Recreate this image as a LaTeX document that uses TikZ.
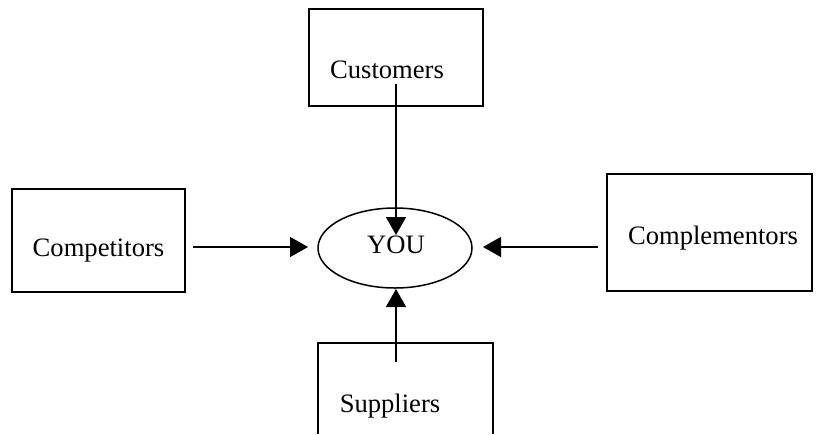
\documentclass[tikz,border=0pt]{standalone}
\usepackage{fontspec}
\setmainfont{Liberation Serif}
\usetikzlibrary{arrows.meta,shapes.geometric}
\begin{document}
\begin{tikzpicture}[x=0.5pt,y=-0.5pt,
  box/.style={draw,line width=1pt,inner sep=0pt},
  lbl/.style={anchor=base,inner sep=0pt,font=\fontsize{13.3}{16}\selectfont},
  arr/.style={line width=0.75pt,-{Triangle[width=10pt,length=9pt]}}]
\useasboundingbox (0,0) rectangle (817,434);
% boxes
\node[box,minimum width=87pt,minimum height=48.5pt] (custbox) at (396,57.5) {};
\node[box,minimum width=86.5pt,minimum height=51.5pt] (compbox) at (98.5,240.5) {};
\node[box,minimum width=102.5pt,minimum height=58.5pt] (cplbox) at (709.5,232.5) {};
\draw[line width=1pt] (318,434) -- (318,343) -- (493,343) -- (493,434);
% ellipse
\node[draw,ellipse,line width=0.75pt,minimum width=77pt,minimum height=40pt,inner sep=0pt] (you) at (395,248) {};
% labels
\node[lbl] (custlbl) at (387,78) {Customers};
\node[lbl] (complbl) at (98.5,256) {Competitors};
\node[lbl] (cpllbl) at (713,244) {Complementors};
\node[lbl] (supplbl) at (390,412) {Suppliers};
\node[lbl] (youlbl) at (396,253) {YOU};
% connector ends
\coordinate (c1) at (396,84);
\coordinate (c2) at (396,235);
\coordinate (l1) at (193,247);
\coordinate (l2) at (308,247);
\coordinate (r1) at (598,247);
\coordinate (r2) at (483,247);
\coordinate (s1) at (396,362);
\coordinate (s2) at (396,289);
\draw[arr] (c1) -- (c2);
\draw[arr] (l1) -- (l2);
\draw[arr] (r1) -- (r2);
\draw[arr] (s1) -- (s2);
\end{tikzpicture}
\end{document}
